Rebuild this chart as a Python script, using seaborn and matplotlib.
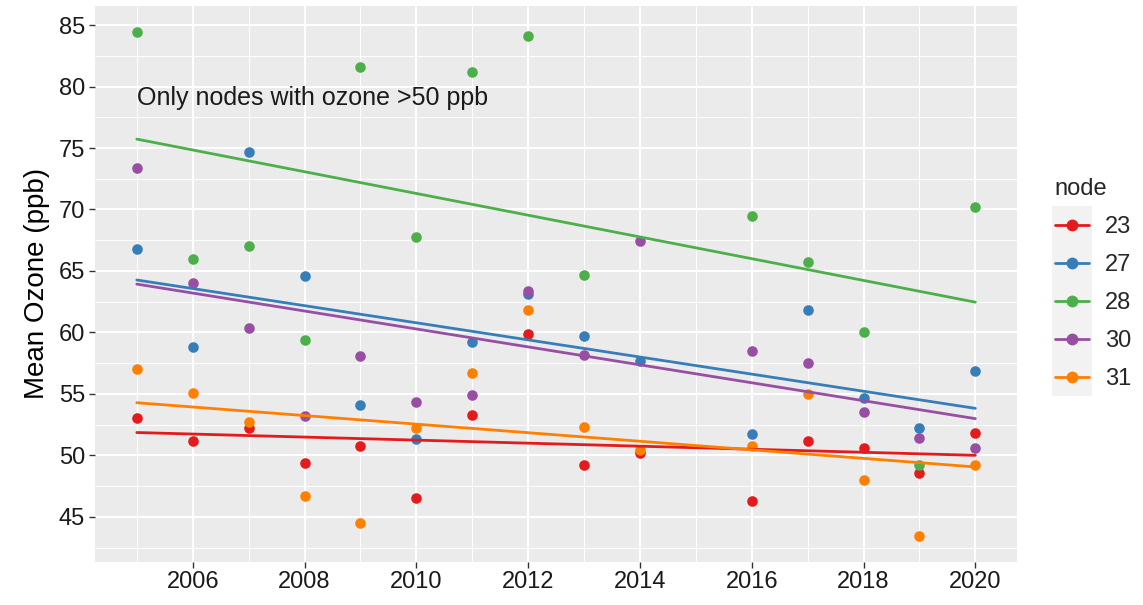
import numpy as np
import pandas as pd
import matplotlib
matplotlib.use("Agg")
import matplotlib.pyplot as plt
from matplotlib.lines import Line2D
from matplotlib.patches import Rectangle
from matplotlib.ticker import MultipleLocator
import seaborn as sns

# yearly mean ozone per node (2015 has no data)
years = [2005, 2006, 2007, 2008, 2009, 2010, 2011, 2012, 2013, 2014,
         2016, 2017, 2018, 2019, 2020]
nodes = ["23", "27", "28", "30", "31"]
node23 = [53.05, 51.2, 52.2, 49.4, 50.75, 46.5, 53.3, 59.9, 49.25, 50.2,
          46.3, 51.15, 50.6, 48.6, 51.85]
node27 = [66.8, 58.8, 74.7, 64.6, 54.1, 51.3, 59.2, 63.1, 59.7, 57.7,
          51.75, 61.85, 54.7, 52.2, 56.9]
node28 = [84.45, 66.0, 67.0, 59.4, 81.6, 67.8, 81.15, 84.15, 64.7, None,
          69.5, 65.7, 60.0, 49.2, 70.2]
node30 = [73.4, 64.0, 60.4, 53.2, 58.05, 54.3, 54.9, 63.4, 58.2, 67.4,
          58.45, 57.5, 53.5, 51.4, 50.6]
node31 = [57.0, 55.1, 52.7, 46.7, 44.5, 52.2, 56.7, 61.85, 52.3, 50.45,
          50.75, 55.0, 48.0, 43.4, 49.25]
node_colors = ["#E41A1C", "#377EB8", "#4DAF4A", "#984EA3", "#FF7F00"]

frames = []
for name, vals in zip(nodes, [node23, node27, node28, node30, node31]):
    frames.append(pd.DataFrame({"year": years, "ozone": vals, "node": name}))
df = pd.concat(frames).dropna()

sns.set_theme(style="darkgrid")
plt.rcParams["font.family"] = ["Liberation Sans", "DejaVu Sans"]

fig = plt.figure(figsize=(11.43, 6.05), dpi=100)
ax = fig.add_axes([0.083, 0.0716, 0.807, 0.9184])
ax.set_facecolor("#EBEBEB")

for name, col in zip(nodes, node_colors):
    sub = df[df["node"] == name]
    sns.regplot(data=sub, x="year", y="ozone", ax=ax, ci=None, color=col,
                scatter_kws={"s": 58, "linewidths": 0, "alpha": 1, "zorder": 3},
                line_kws={"lw": 2.0, "zorder": 4})

ax.set_xlim(2004.25, 2020.75)
ax.set_ylim(41.35, 86.55)
ax.set_xticks(np.arange(2006, 2021, 2))
ax.set_yticks(np.arange(45, 86, 5))
ax.xaxis.set_minor_locator(MultipleLocator(1))
ax.yaxis.set_minor_locator(MultipleLocator(2.5))
ax.grid(which="major", color="white", lw=1.5)
ax.grid(which="minor", color="white", lw=0.7)
ax.set_axisbelow(True)
for s in ax.spines.values():
    s.set_visible(False)
ax.tick_params(axis="both", which="major", bottom=True, left=True, length=4,
               width=1, color="#333333", labelsize=17, labelcolor="#1a1a1a", pad=3)
ax.tick_params(which="minor", length=0)
ax.set_xlabel("")
ax.set_ylabel("Mean Ozone (ppb)", fontsize=20, color="black", labelpad=6)

ax.text(2005, 79.05, "Only nodes with ozone >50 ppb", fontsize=18,
        ha="left", va="center", color="#1a1a1a")

handles = [Line2D([0], [0], color=c, lw=2, marker="o", markersize=7.5)
           for c in node_colors]
leg = fig.legend(handles, nodes, title="node", loc="center left",
                 bbox_to_anchor=(0.904, 0.53), frameon=False, fontsize=17,
                 title_fontsize=17, handlelength=1.45, labelspacing=0.68,
                 handletextpad=0.7)
leg._legend_box.align = "left"

# grey key background like ggplot legend keys
fig.canvas.draw()
r = fig.canvas.get_renderer()
boxes = [ln.get_window_extent(r) for ln in leg.get_lines()]
xc = np.mean([(b.x0 + b.x1) / 2 for b in boxes])
ys = sorted([(b.y0 + b.y1) / 2 for b in boxes])
step = (ys[-1] - ys[0]) / (len(ys) - 1)
W, H = fig.bbox.width, fig.bbox.height
fig.add_artist(Rectangle(((xc - 20) / W, (ys[0] - step / 2) / H), 40 / W,
                         (ys[-1] - ys[0] + step) / H, transform=fig.transFigure,
                         facecolor="#F2F2F2", edgecolor="none", zorder=1))

fig.savefig("out.png", dpi=100)
